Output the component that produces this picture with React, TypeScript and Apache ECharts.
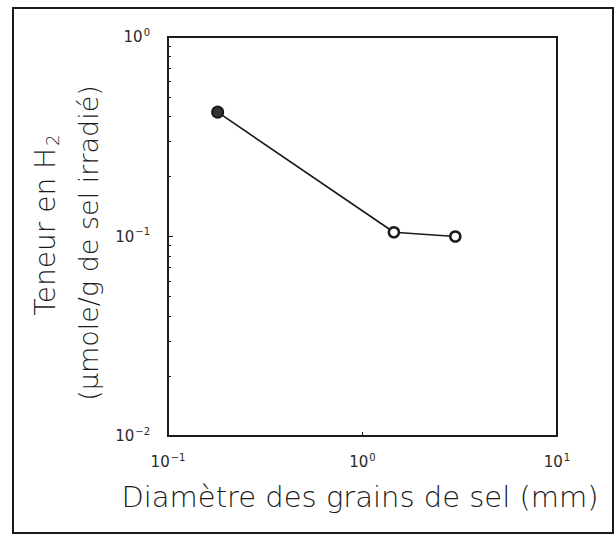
import React, { useEffect, useRef } from "react";
import * as echarts from "echarts";

const diameters: number[] = [0.18, 1.45, 3.0];
const h2Content: number[] = [0.42, 0.105, 0.1];
const markerFilled: boolean[] = [true, false, false];
const xTitle = "Diamètre des grains de sel (mm)";
const yTitleLine1 = "Teneur en H";
const yTitleSub = "2";
const yTitleLine2 = "(µmole/g de sel irradié)";

const FONT = "DejaVu Sans";
const INK = "#1a1a1a";

function powLabel(v: number): string {
  const e = Math.round(Math.log10(v));
  return `{b|10}{s|${e < 0 ? "−" + Math.abs(e) : e}}`;
}

const labelRich = {
  b: { fontFamily: FONT, fontSize: 15, color: "#2a2a2a", fontWeight: 400 },
  s: { fontFamily: FONT, fontSize: 10, color: "#2a2a2a", verticalAlign: "top", padding: [0, 0, 10, 1], fontWeight: 400 },
};

export default function App() {
  const ref = useRef<HTMLDivElement>(null);
  useEffect(() => {
    if (!ref.current) return;
    const chart = echarts.init(ref.current, null, { renderer: "svg" });
    const data = diameters.map((x, i) => ({
      value: [x, h2Content[i]],
      symbolSize: markerFilled[i] ? 11 : 10,
      itemStyle: markerFilled[i]
        ? { color: "#333", borderColor: INK, borderWidth: 2 }
        : { color: "#fff", borderColor: INK, borderWidth: 2.5 },
    }));
    chart.setOption({
      animation: false,
      backgroundColor: "#fff",
      grid: {
        left: 168,
        right: 58,
        top: 37,
        bottom: 100,
        show: true,
        borderColor: INK,
        borderWidth: 2,
        backgroundColor: "transparent",
      },
      xAxis: {
        type: "log",
        logBase: 10,
        min: 0.1,
        max: 10,
        axisLine: { show: true, lineStyle: { color: INK, width: 2 } },
        axisTick: { show: true, inside: true, length: 4, lineStyle: { color: INK } },
        minorTick: { show: false },
        splitLine: { show: false },
        axisLabel: { color: INK, formatter: powLabel, rich: labelRich, margin: 16 },
      },
      yAxis: {
        type: "log",
        logBase: 10,
        min: 0.01,
        max: 1,
        axisLine: { show: true, lineStyle: { color: INK, width: 2 } },
        axisTick: { show: true, inside: true, length: 5, lineStyle: { color: INK } },
        minorTick: { show: true, length: 3, splitNumber: 9, lineStyle: { color: INK } },
        splitLine: { show: false },
        axisLabel: { color: INK, formatter: powLabel, rich: labelRich, margin: 18 },
      },
      series: [
        {
          type: "line",
          data,
          symbol: "circle",
          lineStyle: { color: INK, width: 1.6 },
          z: 3,
        },
      ],
      graphic: [
        {
          type: "rect",
          shape: { x: 13, y: 8, width: 600, height: 525 },
          style: { fill: "transparent", stroke: INK, lineWidth: 2 },
          silent: true,
        },
        {
          type: "text",
          x: 360,
          y: 497,
          style: {
            text: xTitle,
            fontFamily: FONT,
            fontSize: 29,
            fontWeight: 300,
            fill: INK,
            align: "center",
            verticalAlign: "middle",
          },
        },
        {
          type: "text",
          x: 45,
          y: 225,
          rotation: Math.PI / 2,
          style: {
            text: `{t|${yTitleLine1}}{sub|${yTitleSub}}`,
            align: "center",
            verticalAlign: "middle",
            rich: {
              t: { fontFamily: FONT, fontSize: 28, fontWeight: 300, fill: INK },
              sub: { fontFamily: FONT, fontSize: 18, fontWeight: 300, fill: INK, verticalAlign: "bottom", padding: [15, 0, 0, 2] },
            },
          },
        },
        {
          type: "text",
          x: 88,
          y: 243,
          rotation: Math.PI / 2,
          style: {
            text: yTitleLine2,
            fontFamily: FONT,
            fontSize: 27,
            fontWeight: 300,
            fill: INK,
            align: "center",
            verticalAlign: "middle",
          },
        },
      ],
    });
    return () => chart.dispose();
  }, []);
  return (
    <div
      ref={ref}
      style={{ position: "absolute", left: 0, top: 0, width: 615, height: 536 }}
    />
  );
}
